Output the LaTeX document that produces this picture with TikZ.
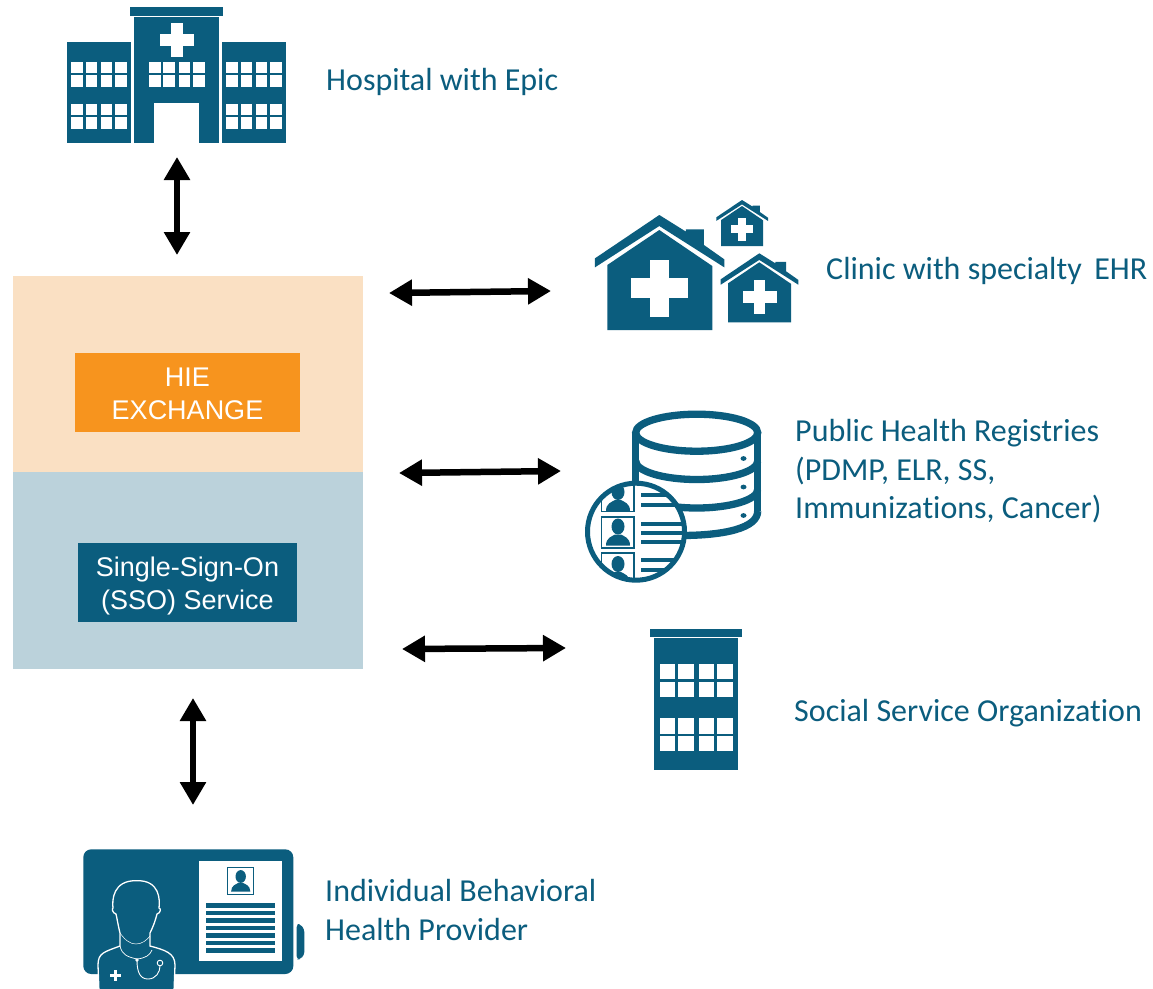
\documentclass[tikz,border=0pt]{standalone}
\usepackage{fontspec}
\setmainfont{Carlito}[Ligatures=CommonOff]
\newfontfamily\arialf{Liberation Sans}
\usetikzlibrary{arrows.meta}
\definecolor{teal}{HTML}{0B5D7E}
\definecolor{peach}{HTML}{FAE0C3}
\definecolor{paleblue}{HTML}{BBD2DB}
\definecolor{orangebox}{HTML}{F7941E}
\tikzset{
  label text/.style={text=teal,anchor=west,align=left,inner sep=0pt,font=\fontsize{32}{38.5}\selectfont},
  box text/.style={inner sep=0pt,outer sep=0pt,align=center,text=white,font=\arialf\fontsize{27}{33}\selectfont},
  link/.style={line width=6.5pt,black,{Triangle[length=23pt,width=25pt]}-{Triangle[length=23pt,width=25pt]}},
  ink/.style={fill=teal,draw=none},
  gap/.style={fill=white,draw=none}
}
\newcommand{\winsq}[3]{\fill[white] (#1,#2) rectangle ++(#3,#3);}
\newcommand{\wingrid}[5]{%
  \winsq{#1}{#5}{11.7}\winsq{#2}{#5}{11.7}\winsq{#3}{#5}{11.7}\winsq{#4}{#5}{11.7}}
\newcommand{\housepic}[3]{%
  \begin{scope}[shift={(#1,#2)},scale=#3/3]
    \path[ink] (0,0)--(80,50)--(80,43)--(134,43)--(134,90)--(195,133)--(195,157)--(0,33)--(-193,157)--(-193,130)--cycle;
    \path[ink] (0,45)--(159,153)--(159,345)--(-156,345)--(-156,150)--cycle;
    \path[gap] (-29,135) rectangle (30,305);
    \path[gap] (-84,190) rectangle (86,250);
  \end{scope}}
\newcommand{\bust}[4][teal]{%
  \begin{scope}[shift={(#2,#3)},scale=#4]
    \fill[#1] (0,0) ellipse (6.5 and 8);
    \fill[#1] (-12,19) .. controls (-12,11) and (-6,10) .. (-3,8) -- (3,8) .. controls (6,10) and (12,11) .. (12,19) -- cycle;
  \end{scope}}
\begin{document}
\begin{tikzpicture}[x=1pt,y=-1pt]
\useasboundingbox (0,0) rectangle (1153,988);
\fill[white] (0,0) rectangle (1153,988);

% central panels
\fill[peach] (13,276) rectangle (363,472);
\fill[paleblue] (13,472) rectangle (363,669);
\fill[orangebox] (75,353) rectangle (300,432);
\fill[teal] (78,543) rectangle (297,622);
\node[box text] (hie) at (187.5,393.5) {HIE\\EXCHANGE};
\node[box text] (sso) at (187.5,586.5) {Single-Sign-On\\(SSO) Service};

% hospital
\path[ink] (130,7) rectangle (223,16);
\path[ink] (134,17) rectangle (219,143);
\path[gap] (154,103) rectangle (199,143);
\path[ink] (67,42) rectangle (131,143);
\path[ink] (222,42) rectangle (286,143);
\path[gap] (170.9,23) rectangle (182.6,57);
\path[gap] (159.5,34.3) rectangle (193.7,45.8);
\foreach \yy in {61.7,75.3,103.7,117} {
  \wingrid{71}{85.7}{100.7}{115}{\yy}
  \wingrid{226.3}{240.7}{255.7}{270}{\yy}
}
\foreach \yy in {61.7,75.3} { \wingrid{149}{163.3}{178.7}{193}{\yy} }

% clinics
\housepic{659.3}{215}{1}
\housepic{742}{200}{0.4}
\housepic{759.3}{253.3}{0.6}

% database
\begin{scope}[teal,line width=7.3pt]
  \draw (635.7,432.7) -- (635.7,518);
  \draw (757.7,432.7) -- (757.7,511);
  \draw (696.7,432.7) ellipse (61 and 18.5);
  \draw (635.7,461) arc[start angle=180,end angle=0,x radius=61,y radius=18.5];
  \draw (635.7,489.5) arc[start angle=180,end angle=0,x radius=61,y radius=18.5];
  \draw (680,535.5) .. controls (725,535.5) and (757.7,528) .. (757.7,511);
\end{scope}
\foreach \yy in {458.5,487,515.5} { \fill[teal] (743.5,\yy) ellipse (3 and 2.4); }

% magnifier
\fill[white] (636,531.7) circle (48.5);
\begin{scope}
  \clip (636,531.7) circle (48.5);
  \begin{scope}[teal,line width=1.4pt]
    \draw (601.5,470) rectangle (634,511.5);
    \draw (601.5,517) rectangle (634,548);
    \draw (601.5,553) rectangle (634,590);
  \end{scope}
  \bust{618}{492}{1}
  \bust{618}{526.5}{1}
  \bust{618}{564}{1}
  \foreach \yy in {495,504.5,523.5,532.5,541.5,560,569.5} {
    \fill[teal] (641,\yy-2) rectangle (690,\yy+2);
  }
\end{scope}
\draw[teal,line width=5pt] (636,531.7) circle (48.5);

% social service
\path[ink] (650.3,628.7) rectangle (741.7,636.7);
\path[ink] (654,637.7) rectangle (738.3,770.3);
\foreach \xx in {659.7,678.3,698.7,717.3} {
  \foreach \yy in {664,681.7,718.3,736} { \winsq{\xx}{\yy}{15.3} }
}

% provider card
\fill[teal,rounded corners=8pt] (83.3,849.3) rectangle (293.3,974);
\fill[teal,rounded corners=3pt] (296.7,924) -- (300,924) -- (304.3,929) -- (304.3,955) -- (300,959.3) -- (296.7,959.3) -- cycle;
\fill[white] (198.7,861) rectangle (282.3,960.7);
\draw[teal,line width=1pt] (227.8,867.5) rectangle (253.8,894.5);
\bust{240.7}{876.5}{0.8}
\foreach \yy in {905.3,912.7,920.3,927.7,935.3,942.7,950.3} {
  \fill[teal] (205.7,\yy-2.2) rectangle (275,\yy+2.2);
}
\begin{scope}
  \clip (70,840) rectangle (320,988);
  \path[fill=teal,draw=white,line width=1.3pt]
    (99,992) -- (98,965) .. controls (98,953) and (104,952) .. (120,946)
    .. controls (120,938) and (120,935) .. (120,933)
    .. controls (118,925) and (117,918) .. (116,914)
    .. controls (112,913) and (112,908) .. (113,908)
    .. controls (112,900) and (113,880) .. (136.7,880.7)
    .. controls (160,880) and (160,900) .. (159,908)
    .. controls (161,908) and (161,913) .. (157,914)
    .. controls (156,918) and (154,925) .. (150,933)
    .. controls (150,935) and (150,940) .. (150,946)
    .. controls (165,950) and (175,953) .. (175,965) -- (174,992);
\end{scope}
\draw[white,line width=0.5pt] (120,933) .. controls (125,940) and (130,944) .. (136,944) .. controls (142,944) and (147,940) .. (150,936);
\draw[white,line width=0.7pt] (120,946) .. controls (122,955) and (128,957) .. (137,959) .. controls (146,958) and (150,955) .. (152,950);
\fill[white] (137,960) circle (1.8);
\draw[white,line width=0.9pt] (137,960) .. controls (137,972) and (140,979) .. (148,979) .. controls (156,979) and (160,972) .. (160,966);
\draw[white,line width=0.9pt] (160,963) circle (2.8);
\fill[white] (113.6,970) rectangle ++(3.8,11);
\fill[white] (110,973.6) rectangle ++(11,3.8);

% labels
\node[label text] (hosp) at (326,82) {Hospital with Epic};
\node[label text] (clinic) at (826,271) {Clinic with specialty\, EHR};
\node[label text] (reg) at (795,471.5) {Public Health Registries\\(PDMP, ELR, SS,\\Immunizations, Cancer)};
\node[label text] (soc) at (794,713) {Social Service Organization};
\node[label text] (indiv) at (325,910) {Individual Behavioral\\Health Provider};

% connectors
\coordinate (a1) at (177,157); \coordinate (a2) at (177,255);
\coordinate (b1) at (389,293); \coordinate (b2) at (551,291);
\coordinate (c1) at (399,473); \coordinate (c2) at (561,471);
\coordinate (d1) at (402,649); \coordinate (d2) at (566,648);
\coordinate (e1) at (193,698); \coordinate (e2) at (193,805);
\draw[link] (a1) -- (a2);
\draw[link] (b1) -- (b2);
\draw[link] (c1) -- (c2);
\draw[link] (d1) -- (d2);
\draw[link] (e1) -- (e2);
\end{tikzpicture}
\end{document}
